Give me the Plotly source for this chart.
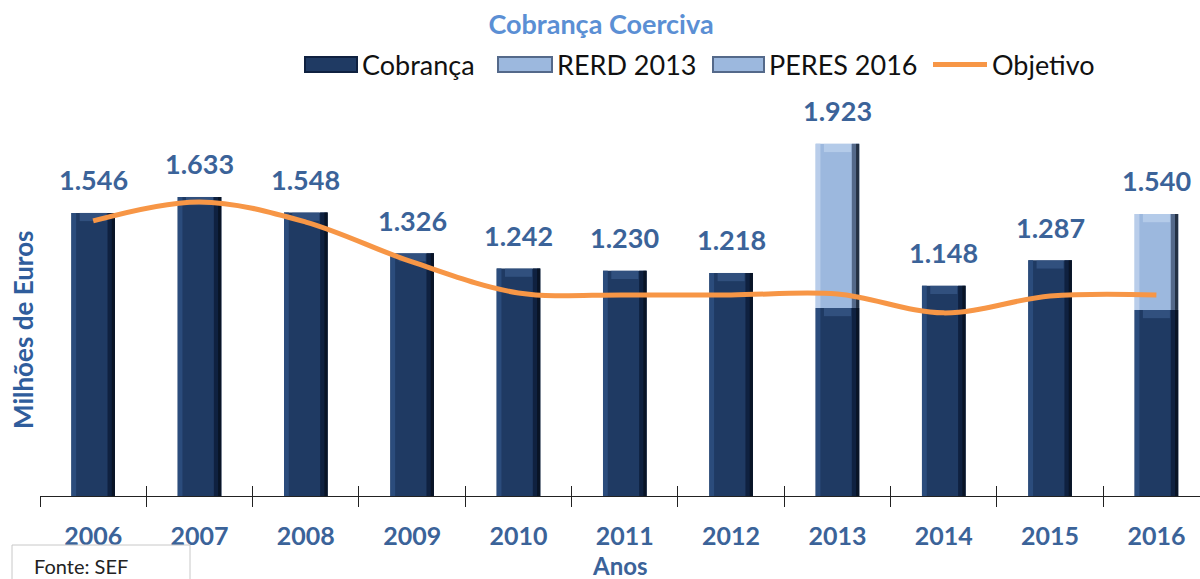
import plotly.graph_objects as go

anos = ["2006", "2007", "2008", "2009", "2010", "2011", "2012", "2013", "2014", "2015", "2016"]
cobranca = [1546, 1633, 1548, 1326, 1242, 1230, 1218, 1027, 1148, 1287, 1016]
rerd_2013 = [0, 0, 0, 0, 0, 0, 0, 896, 0, 0, 0]
peres_2016 = [0, 0, 0, 0, 0, 0, 0, 0, 0, 0, 524]
objetivo = [1502, 1606, 1496, 1278, 1109, 1098, 1098, 1103, 1000, 1092, 1098]
rotulos = ["1.546", "1.633", "1.548", "1.326", "1.242", "1.230", "1.218", "1.923", "1.148", "1.287", "1.540"]

idx = list(range(len(anos)))
extra = [r + p for r, p in zip(rerd_2013, peres_2016)]
totais = [c + e for c, e in zip(cobranca, extra)]

NAVY = "#1f3a63"
LIGHT = "#9cb8de"
LABEL = "#3b6399"
FONT = "Lato"
BW = 0.41
YMAX = 2217

# plot area in pixels (for paper-coordinate helpers)
L, T, W, H = 40, 90, 1160, 406


def px(xp):
    return (xp - L) / W


def py(yp):
    return (T + H - yp) / H


fig = go.Figure()


def bevel_bar(y, base, face, left, right, top, name):
    """Bar drawn as a face plus light/dark edges to give a bevelled look."""
    ys = [v if v > 0 else None for v in y]
    fig.add_trace(go.Bar(x=idx, y=ys, base=base, width=BW, name=name,
                         marker=dict(color=face, line=dict(width=0)), showlegend=False))
    fig.add_trace(go.Bar(x=idx, y=ys, base=base, width=0.045, offset=-BW / 2,
                         marker=dict(color=left, line=dict(width=0)), showlegend=False, hoverinfo="skip"))
    fig.add_trace(go.Bar(x=idx, y=ys, base=base, width=0.07, offset=BW / 2 - 0.07,
                         marker=dict(color=right, line=dict(width=0)), showlegend=False, hoverinfo="skip"))
    fig.add_trace(go.Bar(x=idx, y=ys, base=base, width=0.03, offset=BW / 2 - 0.03,
                         marker=dict(color="#050b16", line=dict(width=0), opacity=0.6),
                         showlegend=False, hoverinfo="skip"))
    cap = [min(45, v) if v > 0 else None for v in y]
    capbase = [b + v - 45 if v > 0 else 0 for b, v in zip(base, y)]
    fig.add_trace(go.Bar(x=idx, y=cap, base=capbase, width=BW * 0.62,
                         marker=dict(color=top, line=dict(width=0), opacity=0.55),
                         showlegend=False, hoverinfo="skip"))


bevel_bar(cobranca, [0] * len(anos), NAVY, "#2b4c7c", "#0f2140", "#3f6396", "Cobrança")
bevel_bar(rerd_2013, cobranca, LIGHT, "#b9cdea", "#54698a", "#c9dbf3", "RERD 2013")
bevel_bar(peres_2016, cobranca, LIGHT, "#b9cdea", "#54698a", "#c9dbf3", "PERES 2016")

fig.add_trace(go.Scatter(
    x=idx, y=objetivo, name="Objetivo", mode="lines", showlegend=False,
    line=dict(color="#f79646", width=5, shape="spline", smoothing=1),
))
# helper traces so the overlay axes carry the same categories (tick marks)
fig.add_trace(go.Scatter(
    x=anos, y=[None] * len(anos), xaxis="x2", showlegend=False,
    hoverinfo="skip", mode="lines",
))
fig.add_trace(go.Scatter(
    x=anos, y=[None] * len(anos), xaxis="x3", showlegend=False,
    hoverinfo="skip", mode="lines",
))

for i, total, txt in zip(idx, totais, rotulos):
    fig.add_annotation(
        x=i, y=total, text=f"<b>{txt}</b>", showarrow=False,
        yanchor="middle", yshift=33,
        font=dict(family=FONT, size=27, color=LABEL),
    )

# legend drawn by hand so the swatches keep their wide bevelled shape
legend_items = [
    ("Cobrança", NAVY, "#0f2140", 305, 357),
    ("RERD 2013", LIGHT, "#54698a", 498, 552),
    ("PERES 2016", LIGHT, "#54698a", 713, 764),
]
ly = 64.5
for nome, cor, borda, x0, x1 in legend_items:
    fig.add_shape(type="rect", xref="paper", yref="paper",
                  x0=px(x0), x1=px(x1), y0=py(ly + 7.5), y1=py(ly - 7.5),
                  fillcolor=cor, line=dict(color=borda, width=2))
    fig.add_annotation(xref="paper", yref="paper", x=px(x1 + 3), y=py(ly),
                       xanchor="left", yanchor="middle", text=nome, showarrow=False,
                       font=dict(family=FONT, size=27, color="#111111"))
fig.add_shape(type="line", xref="paper", yref="paper",
              x0=px(933), x1=px(987), y0=py(ly), y1=py(ly),
              line=dict(color="#f79646", width=5))
fig.add_annotation(xref="paper", yref="paper", x=px(990), y=py(ly),
                   xanchor="left", yanchor="middle", text="Objetivo", showarrow=False,
                   font=dict(family=FONT, size=27, color="#111111"))

fig.add_annotation(
    xref="paper", yref="paper", x=px(23), y=py(330),
    xanchor="center", yanchor="middle",
    text="<b>Milhões de Euros</b>", textangle=-90, showarrow=False,
    font=dict(family=FONT, size=26, color="#2f5d9c"),
)
fig.add_annotation(
    xref="paper", yref="paper", x=px(620), y=py(565),
    xanchor="center", yanchor="middle",
    text="<b>Anos</b>", showarrow=False,
    font=dict(family=FONT, size=24, color=LABEL),
)
fig.add_shape(type="rect", xref="paper", yref="paper",
              x0=px(12), x1=px(190), y0=py(545), y1=py(590),
              fillcolor="rgba(0,0,0,0)", line=dict(color="#c8c8c8", width=1))
fig.add_annotation(
    xref="paper", yref="paper", x=px(32), y=py(566),
    xanchor="left", yanchor="middle",
    text="Fonte: SEF", showarrow=False,
    font=dict(family=FONT, size=20, color="#222222"),
)

xrange = [-0.5, 10.41]
fig.update_layout(
    width=1200, height=579,
    margin=dict(l=L, r=1200 - L - W, t=T, b=579 - T - H),
    paper_bgcolor="white", plot_bgcolor="white",
    barmode="overlay",
    font=dict(family=FONT),
    showlegend=False,
    title=dict(
        text="<b>Cobrança Coerciva</b>", x=px(601), xref="paper", xanchor="center",
        y=1 - 25 / 579, yanchor="middle",
        font=dict(family=FONT, size=27, color="#5b8fd4"),
    ),
    xaxis=dict(
        type="linear", range=xrange, tickmode="array", tickvals=idx,
        ticktext=[f"<b>{a}</b>" for a in anos],
        showline=True, linecolor="#222222", linewidth=1,
        ticks="", tickfont=dict(family=FONT, size=25, color=LABEL),
        ticklabelstandoff=18, showgrid=False, zeroline=False,
    ),
    xaxis2=dict(
        type="category", overlaying="x", anchor="y", range=xrange, tickson="boundaries",
        side="bottom", ticks="outside", ticklen=10, tickcolor="#222222",
        showticklabels=False, showline=False, showgrid=False,
    ),
    xaxis3=dict(
        type="category", overlaying="x", anchor="y", range=xrange, tickson="boundaries",
        side="bottom", ticks="inside", ticklen=10, tickcolor="#222222",
        showticklabels=False, showline=False, showgrid=False,
    ),
    yaxis=dict(
        range=[0, YMAX], showticklabels=False, showgrid=False,
        zeroline=False, showline=False, ticks="",
    ),
)

fig.write_html("out.html")
